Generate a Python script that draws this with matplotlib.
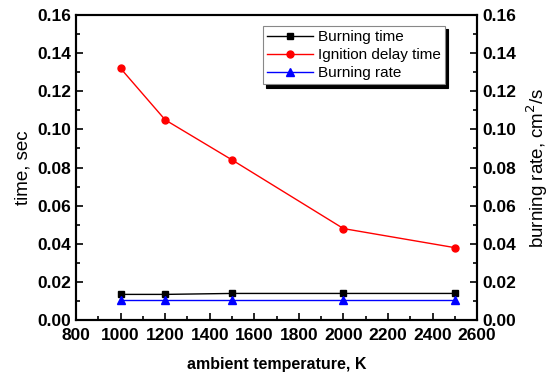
import matplotlib
matplotlib.use("Agg")
import matplotlib.pyplot as plt
from matplotlib.ticker import MultipleLocator, AutoMinorLocator

plt.rcParams["font.family"] = ["Liberation Sans", "DejaVu Sans"]

# data
temperature = [1000, 1200, 1500, 2000, 2500]
burning_time = [0.0135, 0.0135, 0.0140, 0.0140, 0.0140]
ignition_delay = [0.132, 0.105, 0.084, 0.048, 0.038]
burning_rate = [0.0105, 0.0105, 0.0105, 0.0105, 0.0105]

fig = plt.figure(figsize=(5.51, 3.74), dpi=100)
ax = fig.add_axes([0.138, 0.144, 0.728, 0.816])
ax2 = ax.twinx()

l1, = ax.plot(temperature, burning_time, color="black", marker="s", ms=5, lw=1, label="Burning time")
l2, = ax.plot(temperature, ignition_delay, color="red", marker="o", ms=5, lw=1, label="Ignition delay time")
l3, = ax2.plot(temperature, burning_rate, color="blue", marker="^", ms=5.5, lw=1, label="Burning rate")

for a in (ax, ax2):
    a.set_ylim(0, 0.16)
    a.yaxis.set_major_locator(MultipleLocator(0.02))
    a.yaxis.set_minor_locator(AutoMinorLocator(2))
    a.yaxis.set_major_formatter(matplotlib.ticker.FormatStrFormatter("%.2f"))
    for s in a.spines.values():
        s.set_linewidth(1.5)

ax.set_xlim(800, 2600)
ax.xaxis.set_major_locator(MultipleLocator(200))
ax.xaxis.set_minor_locator(AutoMinorLocator(2))
ax.tick_params(axis="both", which="both", direction="in", labelsize=12.5, width=1.2)
ax.tick_params(which="major", length=5)
ax.tick_params(which="minor", length=3)
ax.tick_params(axis="x", top=False, pad=6)
ax2.tick_params(axis="y", which="both", direction="in", labelsize=12.5, width=1.2)
ax2.tick_params(which="major", length=5)
ax2.tick_params(which="minor", length=3)
for lab in ax.get_xticklabels() + ax.get_yticklabels() + ax2.get_yticklabels():
    lab.set_fontweight("bold")

ax.set_xlabel("ambient temperature, K", fontsize=11.5, fontweight="bold", labelpad=10)
ax.set_ylabel("time, sec", fontsize=13.5, labelpad=4)
ax2.set_ylabel("burning rate, cm$^2$/s", fontsize=13.5, labelpad=6)

leg = ax.legend(handles=[l1, l2, l3], loc="upper left", bbox_to_anchor=(0.465, 0.965),
                fontsize=11, frameon=True, fancybox=False,
                shadow={"color": "black", "alpha": 1, "ox": 2.5, "oy": -2.5},
                borderpad=0.3, labelspacing=0.25, handlelength=3.0, handletextpad=0.3,
                borderaxespad=0)
leg.get_frame().set_edgecolor("#888888")
leg.get_frame().set_linewidth(0.8)

fig.savefig("out.png", dpi=100)
